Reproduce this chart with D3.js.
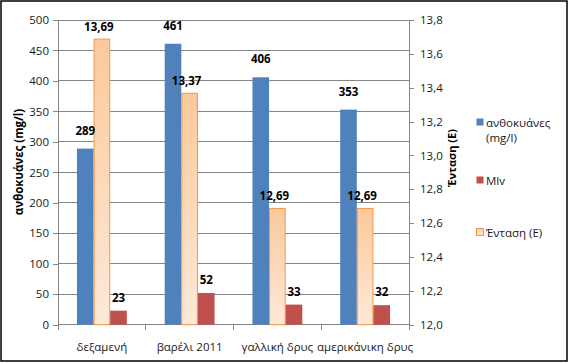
<!DOCTYPE html>
<html>
<head>
<meta charset="utf-8">
<script src="https://cdn.jsdelivr.net/npm/d3@7"></script>
<style>
  html, body { margin: 0; padding: 0; background: #fff; }
  svg { display: block; font-family: "Open Sans", "Noto Sans", sans-serif; }
</style>
</head>
<body>
<svg id="chart" width="569" height="364"></svg>
<script>
const categories = ["δεξαμενή", "βαρέλι 2011", "γαλλική δρυς", "αμερικάνικη δρυς"];
const anthocyanins = [289, 461, 406, 353];
const mlv = [23, 52, 33, 32];
const intensity = [13.69, 13.37, 12.69, 12.69];
const leftTicks = [0, 50, 100, 150, 200, 250, 300, 350, 400, 450, 500];
const rightTicks = [12.0, 12.2, 12.4, 12.6, 12.8, 13.0, 13.2, 13.4, 13.6, 13.8];
const seriesNames = ["ανθοκυάνες (mg/l)", "Mlv", "Ένταση (E)"];

(function () {
const svg = d3.select("#chart");
const pLeft = 58, pRight = 409, pTop = 20, pBottom = 324.7;
const gridColor = "#868686";
const textColor = "#1a1a1a";

const defs = svg.append("defs");
const grad = defs.append("linearGradient").attr("id", "orangeGrad")
  .attr("x1", 0).attr("y1", 0).attr("x2", 0).attr("y2", 1);
grad.append("stop").attr("offset", "0%").attr("stop-color", "#FBC99B");
grad.append("stop").attr("offset", "100%").attr("stop-color", "#FDE9D8");

const x = d3.scaleBand().domain(categories).range([pLeft, pRight]).paddingInner(0).paddingOuter(0);
const inner = d3.scaleBand().domain(["a", "i", "m"]).range([0, x.bandwidth()])
  .paddingInner(0).paddingOuter(1.14);
const yL = d3.scaleLinear().domain([0, 500]).range([pBottom, pTop]);
const yR = d3.scaleLinear().domain([12.0, 13.8]).range([pBottom, pTop]);

// gridlines
svg.append("g").selectAll("line").data(leftTicks.filter(d => d > 0)).join("line")
  .attr("x1", pLeft).attr("x2", pRight)
  .attr("y1", d => yL(d)).attr("y2", d => yL(d))
  .attr("stroke", gridColor).attr("stroke-width", 1).attr("shape-rendering", "crispEdges");

// left axis
const axL = svg.append("g").attr("transform", `translate(${pLeft},0)`)
  .call(d3.axisLeft(yL).tickValues(leftTicks).tickSize(5).tickPadding(4).tickFormat(d3.format("d")));
axL.select(".domain").attr("stroke", gridColor).attr("shape-rendering", "crispEdges");
axL.selectAll(".tick line").attr("stroke", gridColor).attr("shape-rendering", "crispEdges");
axL.selectAll("text").attr("font-size", 11.5).attr("fill", textColor).attr("font-family", "Open Sans");

// right axis
const fmtR = v => d3.format(".1f")(v).replace(".", ",");
const axR = svg.append("g").attr("transform", `translate(${pRight},0)`)
  .call(d3.axisRight(yR).tickValues(rightTicks).tickSize(5).tickPadding(6).tickFormat(fmtR));
axR.select(".domain").attr("stroke", gridColor).attr("shape-rendering", "crispEdges");
axR.selectAll(".tick line").attr("stroke", gridColor).attr("shape-rendering", "crispEdges");
axR.selectAll("text").attr("font-size", 11.5).attr("fill", textColor).attr("font-family", "Open Sans");

// bottom axis
const axB = svg.append("g").attr("transform", `translate(0,${pBottom})`);
axB.append("line").attr("x1", pLeft).attr("x2", pRight).attr("y1", 0).attr("y2", 0)
  .attr("stroke", gridColor).attr("shape-rendering", "crispEdges");
const boundaries = categories.map(c => x(c)).concat([x(categories[categories.length - 1]) + x.bandwidth()]);
axB.selectAll("line.tk").data(boundaries).join("line").attr("class", "tk")
  .attr("x1", d => d).attr("x2", d => d).attr("y1", 0).attr("y2", 5)
  .attr("stroke", gridColor).attr("shape-rendering", "crispEdges");
axB.selectAll("text").data(categories).join("text")
  .attr("x", d => x(d) + x.bandwidth() / 2).attr("y", 26)
  .attr("text-anchor", "middle").attr("font-size", 11.5).attr("fill", textColor)
  .text(d => d);

// bars
const bars = svg.append("g");
const bw = inner.bandwidth();
bars.selectAll("rect.a").data(categories).join("rect").attr("class", "a")
  .attr("x", (c) => x(c) + inner("a")).attr("width", bw)
  .attr("y", (c, i) => yL(anthocyanins[i])).attr("height", (c, i) => pBottom - yL(anthocyanins[i]))
  .attr("fill", "#4F81BD");
bars.selectAll("rect.i").data(categories).join("rect").attr("class", "i")
  .attr("x", (c) => x(c) + inner("i") + 0.5).attr("width", bw - 1)
  .attr("y", (c, i) => yR(intensity[i]) + 0.5).attr("height", (c, i) => pBottom - yR(intensity[i]) - 0.5)
  .attr("fill", "url(#orangeGrad)").attr("stroke", "#F79646").attr("stroke-width", 1);
bars.selectAll("rect.m").data(categories).join("rect").attr("class", "m")
  .attr("x", (c) => x(c) + inner("m")).attr("width", bw)
  .attr("y", (c, i) => yL(mlv[i])).attr("height", (c, i) => pBottom - yL(mlv[i]))
  .attr("fill", "#C0504D");

// value labels
const labels = svg.append("g").attr("font-size", 11.5).attr("font-weight", "bold")
  .attr("fill", "#000").attr("text-anchor", "middle");
labels.selectAll("text.a").data(categories).join("text").attr("class", "a")
  .attr("x", c => x(c) + inner("a") + bw / 2)
  .attr("y", (c, i) => yL(anthocyanins[i]) - 14)
  .text((c, i) => anthocyanins[i]);
labels.selectAll("text.i").data(categories).join("text").attr("class", "i")
  .attr("x", c => x(c) + inner("i") + bw / 2 - 3)
  .attr("y", (c, i) => yR(intensity[i]) - 8)
  .text((c, i) => d3.format(".2f")(intensity[i]).replace(".", ","));
labels.selectAll("text.m").data(categories).join("text").attr("class", "m")
  .attr("x", c => x(c) + inner("m") + bw / 2)
  .attr("y", (c, i) => yL(mlv[i]) - 9)
  .text((c, i) => mlv[i]);

// axis titles
svg.append("text").attr("transform", "translate(23,162) rotate(-90)")
  .attr("text-anchor", "middle").attr("font-size", 11.5).attr("font-weight", "bold")
  .attr("fill", "#000").text(seriesNames[0]);
svg.append("text").attr("transform", "translate(456,158) rotate(-90)")
  .attr("text-anchor", "middle").attr("font-size", 11).attr("font-weight", "bold")
  .attr("fill", "#000").text(seriesNames[2]);

// legend
const leg = svg.append("g").attr("font-size", 11.5).attr("fill", textColor);
const legItems = [
  { lines: ["ανθοκυάνες", "(mg/l)"], fill: "#4F81BD", stroke: "none", y: 127 },
  { lines: [seriesNames[1]], fill: "#C0504D", stroke: "none", y: 185 },
  { lines: [seriesNames[2]], fill: "url(#orangeGrad)", stroke: "#F79646", y: 237 }
];
legItems.forEach(it => {
  leg.append("rect").attr("x", 476.5).attr("y", it.y - 8.5).attr("width", 7).attr("height", 7)
    .attr("fill", it.fill).attr("stroke", it.stroke);
  it.lines.forEach((ln, j) => {
    leg.append("text").attr("x", 486).attr("y", it.y + j * 15).text(ln);
  });
});

// outer border
svg.append("rect").attr("x", 1).attr("y", 1).attr("width", 566).attr("height", 360)
  .attr("fill", "none").attr("stroke", "#000").attr("stroke-width", 1.5);
})();
</script>
</body>
</html>
